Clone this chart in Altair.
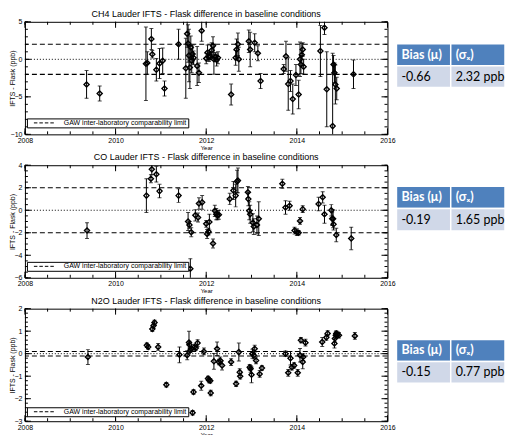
import altair as alt
import pandas as pd

# ---------------- data ----------------
ch4_year = [2009.36, 2009.65, 2010.67, 2010.70, 2010.79, 2010.81, 2010.90, 2010.97, 2011.04, 2011.08, 2011.39,
            2011.55, 2011.58, 2011.60, 2011.62, 2011.64, 2011.66, 2011.68, 2011.70, 2011.72, 2011.80, 2011.84, 2011.90,
            2012.00, 2012.03, 2012.06, 2012.09, 2012.12, 2012.15, 2012.17, 2012.20, 2012.23, 2012.26,
            2012.55, 2012.65, 2012.67, 2012.70, 2012.72,
            2012.94, 2012.97, 2013.07, 2013.14, 2013.20,
            2013.71, 2013.76, 2013.81, 2013.86, 2013.91, 2013.98, 2014.04, 2014.07, 2014.09, 2014.11, 2014.13, 2014.15,
            2014.52, 2014.61, 2014.66, 2014.79, 2014.81, 2014.83, 2014.85, 2014.88, 2015.25]
ch4_val = [-3.35, -4.55, -0.6, -0.5, 2.7, 0.67, -1.4, -0.55, -0.2, -3.9, 2.0,
           -1.2, 3.4, 2.1, 0.5, -1.1, 1.6, -0.2, 0.7, 0.2, -0.9, -1.8, 3.8,
           0.1, 0.9, 0.3, 0.4, 1.2, 1.8, 0.0, 0.3, -0.1, 0.2,
           -4.7, 0.2, 1.3, 2.0, 0.0,
           2.4, 1.3, 2.2, 0.8, -2.9,
           -1.3, 0.4, -3.3, -2.9, -5.3, -2.1, -4.7, 0.0, -0.7, 0.6, 1.3, -1.0,
           1.1, 4.2, -4.0, -8.9, -0.7, -1.8, -3.35, -3.9, -2.0]
ch4_err = [1.85, 1.0, 4.9, 1.5, 1.4, 0.5, 1.5, 2.0, 1.7, 1.0, 2.0,
           4.0, 1.8, 2.5, 3.5, 2.8, 1.5, 1.6, 1.2, 0.9, 2.6, 1.3, 1.4,
           0.7, 1.0, 0.6, 0.5, 1.0, 1.2, 2.0, 0.6, 0.8, 0.8,
           1.4, 1.0, 1.4, 1.5, 1.6,
           1.5, 2.3, 1.2, 1.0, 1.0,
           0.6, 2.0, 3.5, 1.4, 2.0, 1.4, 1.9, 2.3, 1.2, 1.5, 0.9, 1.0,
           3.4, 0.9, 5.0, 9.7, 1.2, 1.3, 2.6, 1.5, 1.9]

co_year = [2009.37, 2010.68, 2010.78, 2010.80, 2010.90, 2010.97, 2011.39, 2011.60, 2011.63, 2011.65,
           2011.67, 2011.76, 2011.82, 2011.84, 2011.91, 2012.00, 2012.02, 2012.05, 2012.07, 2012.15,
           2012.19, 2012.22, 2012.25, 2012.28, 2012.52, 2012.60, 2012.65, 2012.68, 2012.70, 2012.92,
           2012.93, 2012.95, 2012.97, 2013.03, 2013.05, 2013.12, 2013.16, 2013.68, 2013.75, 2013.84,
           2013.95, 2014.00, 2014.04, 2014.07, 2014.13, 2014.48, 2014.57, 2014.61, 2014.76, 2014.78,
           2014.80, 2014.81, 2014.87, 2015.20]
co_val = [-1.8, 1.3, 2.8, 3.65, 3.2, 1.7, 1.3, -1.0, -1.3, -5.2,
          -1.95, -0.45, -0.65, 0.6, 0.7, -1.2, -2.1, -1.9, -1.05, -2.95,
          -0.05, -0.35, -0.45, -0.4, 1.0, 1.75, 1.3, 2.55, 2.65, 1.6,
          1.0, -0.05, -0.35, -1.1, -1.45, -1.3, -0.75, 2.35, 0.25, 0.4,
          -1.8, -1.95, -2.0, -0.95, 0.1, 0.55, 1.15, -0.35, 0.0, -0.75,
          -0.75, -1.25, -2.2, -2.5]
co_err = [0.7, 1.5, 0.35, 0.5, 0.7, 0.6, 0.6, 0.8, 0.3, 0.9,
          0.4, 0.5, 0.4, 0.5, 0.6, 0.3, 0.4, 0.3, 0.7, 0.4,
          0.5, 0.5, 0.4, 0.4, 0.5, 0.8, 1.0, 1.0, 1.1, 0.5,
          0.6, 0.8, 0.8, 0.8, 0.7, 0.8, 1.5, 0.4, 0.6, 0.4,
          0.3, 0.3, 0.2, 0.3, 0.3, 0.6, 0.5, 0.8, 0.5, 0.6,
          0.8, 0.5, 0.6, 1.0]

n2o_year = [2009.39, 2010.69, 2010.72, 2010.81, 2010.84, 2010.86, 2010.94, 2011.12, 2011.41, 2011.58,
            2011.62, 2011.63, 2011.65, 2011.67, 2011.70, 2011.72, 2011.74, 2011.77, 2011.81, 2011.89,
            2011.95, 2012.04, 2012.06, 2012.09, 2012.10, 2012.17, 2012.24, 2012.28, 2012.31, 2012.35,
            2012.55, 2012.66, 2012.72, 2012.74, 2012.75, 2012.96, 2012.98, 2013.00, 2013.02, 2013.05,
            2013.07, 2013.10, 2013.18, 2013.23, 2013.75, 2013.81, 2013.86, 2013.89, 2013.94, 2014.02,
            2014.07, 2014.09, 2014.13, 2014.14, 2014.19, 2014.56, 2014.65, 2014.68, 2014.83, 2014.84,
            2014.86, 2014.87, 2014.90, 2014.93, 2015.28]
n2o_val = [-0.15, 0.37, 0.3, 1.1, 1.25, 1.38, 0.3, -1.38, -0.05, -0.07,
           0.5, 0.4, 0.15, 0.22, -2.62, -1.7, 0.3, 0.25, 0.47, -1.42,
           0.1, -1.1, -1.17, -1.2, -1.75, -0.34, 0.22, -0.37, -0.3, -0.52,
           -0.37, -1.34, 0.07, -0.82, -1.0, -0.6, -0.67, -0.94, 0.0, -0.07,
           0.22, -0.3, -0.9, -0.64, 0.0, -0.85, -0.2, -0.6, -0.52, -0.85,
           -0.07, 0.6, -0.37, -0.15, 0.49, 0.52, 0.72, 0.9, 0.45, 0.67,
           0.82, 0.9, 0.85, 0.82, 0.79]
n2o_err = [0.33, 0.1, 0.1, 0.12, 0.12, 0.1, 0.15, 0.1, 0.35, 0.2,
           0.5, 0.15, 0.1, 0.1, 0.1, 0.1, 0.12, 0.1, 0.15, 0.2,
           0.15, 0.1, 0.12, 0.1, 0.12, 0.35, 0.3, 0.12, 0.15, 0.2,
           0.15, 0.12, 0.4, 0.15, 0.12, 0.12, 0.15, 0.35, 0.2, 0.15,
           0.15, 0.15, 0.15, 0.1, 0.12, 0.15, 0.3, 0.12, 0.12, 0.15,
           0.3, 0.12, 0.3, 0.15, 0.15, 0.2, 0.12, 0.12, 0.2, 0.15,
           0.15, 0.12, 0.12, 0.12, 0.15]

titles = ["CH4 Lauder IFTS - Flask difference in baseline conditions",
          "CO Lauder IFTS - Flask difference in baseline conditions",
          "N2O Lauder IFTS - Flask difference in baseline conditions"]
y_domains = [[-10, 5], [-6, 4], [-3, 2]]
y_major = [[-10, -5, 0, 5], [-6, -4, -2, 0, 2, 4], [-3, -2, -1, 0, 1, 2]]
y_minor_step = [1.0, 0.5, 0.2]
limits = [2.0, 2.0, 0.1]
bias_vals = ["-0.66", "-0.19", "-0.15"]
sigma_vals = ["2.32 ppb", "1.65 ppb", "0.77 ppb"]
header_labels = ["Bias (\u03bc)", "(\u03c3\u2093)"]
limit_label = "GAW inter-laboratory comparability limit"
x_major = [2008, 2010, 2012, 2014, 2016]
x_minor = [2008 + 0.5 * i for i in range(17)]

# ---------------- layout / style ----------------
FONT = "Liberation Sans"
TFONT = "Lato"
W, H = 364, 113
TAB_X = [373, 482]
table_y = [[22, 66], [21, 66], [31, 75]]
legend_y = [97, 97, 99]
LEGEND_PATH = "M1,0H2.4M3.2,0H4.6M5.4,0H6.8M7.6,0H9"


def panel(i, years, vals, errs):
    df = pd.DataFrame({"year": years, "val": vals, "err": errs})
    df["lo"] = df["val"] - df["err"]
    df["hi"] = df["val"] + df["err"]

    yscale = alt.Scale(domain=y_domains[i], nice=False, zero=False)
    xscale = alt.Scale(domain=[2008, 2016], nice=False, zero=False)
    yaxis = alt.Axis(values=y_major[i], ticks=False, tickSize=0, domain=False, grid=False,
                     labelFontSize=7, labelPadding=3, labelFlush=False, labelOverlap=False,
                     title="IFTS - Flask (ppb)", titleFontSize=7, titleX=-9)
    xaxis = alt.Axis(values=x_major, format="d", ticks=False, tickSize=0, domain=False, grid=False,
                     labelFontSize=7, labelPadding=2, labelFlush=False, labelOverlap=False,
                     title="Year", titleFontSize=6, titlePadding=1)

    def xq(f):
        return alt.X(f, scale=xscale, axis=xaxis)

    def yq(f):
        return alt.Y(f, scale=yscale, axis=yaxis)

    lo_d, hi_d = y_domains[i]
    step = y_minor_step[i]
    n = int(round((hi_d - lo_d) / step))
    ymin_df = pd.DataFrame({"v": [lo_d + k * step for k in range(n + 1)]})
    ymaj_df = pd.DataFrame({"v": y_major[i]})
    xmin_df = pd.DataFrame({"v": x_minor})
    xmaj_df = pd.DataFrame({"v": x_major})

    base_rule = dict(color="black", strokeWidth=1)
    ticks = []
    for tdf, L in ((ymaj_df, 6), (ymin_df, 3)):
        ticks.append(alt.Chart(tdf).mark_rule(**base_rule).encode(
            y=yq("v:Q"), x=alt.value(0), x2=alt.value(L)))
        ticks.append(alt.Chart(tdf).mark_rule(**base_rule).encode(
            y=yq("v:Q"), x=alt.value(W), x2=alt.value(W - L)))
    for tdf, L in ((xmaj_df, 6), (xmin_df, 3)):
        ticks.append(alt.Chart(tdf).mark_rule(**base_rule).encode(
            x=xq("v:Q"), y=alt.value(H), y2=alt.value(H - L)))
        ticks.append(alt.Chart(tdf).mark_rule(**base_rule).encode(
            x=xq("v:Q"), y=alt.value(0), y2=alt.value(L)))

    lim_df = pd.DataFrame({"lim": [limits[i], -limits[i]], "lab": [limit_label, limit_label]})
    lim_rules = alt.Chart(lim_df).mark_rule(color="black", strokeWidth=1.1, strokeDash=[5, 3]).encode(
        y=yq("lim:Q"),
        color=alt.Color("lab:N", scale=alt.Scale(domain=[limit_label], range=["black"]),
                        legend=alt.Legend(orient="none", legendX=2, legendY=legend_y[i], title=None,
                                          strokeColor="black", fillColor="white", padding=1,
                                          labelFont=FONT, labelFontSize=7, labelColor="black",
                                          symbolType=LEGEND_PATH, symbolSize=25, symbolStrokeWidth=1,
                                          symbolStrokeColor="black", symbolFillColor="transparent",
                                          labelOffset=29)))
    zero_rule = alt.Chart(pd.DataFrame({"z": [0]})).mark_rule(
        color="black", strokeWidth=1, strokeDash=[1, 2]).encode(y=yq("z:Q"))

    base = alt.Chart(df)
    bars = base.mark_rule(color="black", strokeWidth=1, clip=True).encode(
        x=xq("year:Q"), y=yq("lo:Q"), y2="hi:Q")
    cap_hi = base.mark_tick(color="black", orient="horizontal", size=4, thickness=1, clip=True).encode(
        x=xq("year:Q"), y=yq("hi:Q"))
    cap_lo = base.mark_tick(color="black", orient="horizontal", size=4, thickness=1, clip=True).encode(
        x=xq("year:Q"), y=yq("lo:Q"))
    pts = base.mark_point(shape="diamond", filled=False, color="black", size=26, strokeWidth=1.4,
                          clip=True, opacity=1).encode(x=xq("year:Q"), y=yq("val:Q"))

    data_layer = alt.layer(lim_rules, zero_rule, bars, cap_hi, cap_lo, pts, *ticks)

    tab = pd.DataFrame({"col": ["a", "b", "a", "b"], "row": ["h", "h", "v", "v"],
                        "txt": [header_labels[0], header_labels[1], bias_vals[i], sigma_vals[i]]})

    def tx(bp=None):
        kw = {} if bp is None else {"bandPosition": bp}
        return alt.X("col:N", scale=alt.Scale(domain=["a", "b"], range=TAB_X, paddingInner=0,
                                              paddingOuter=0), axis=None, **kw)

    ty = alt.Y("row:N", scale=alt.Scale(domain=["h", "v"], range=table_y[i], paddingInner=0, paddingOuter=0),
               axis=None)
    rect = alt.Chart(tab).mark_rect(stroke="white", strokeWidth=1.5).encode(
        x=tx(), y=ty,
        fill=alt.condition("datum.row == 'h'", alt.value("#4F81BD"), alt.value("#D0D8E8")))
    txt_h = alt.Chart(tab).transform_filter("datum.row == 'h'").mark_text(
        align="left", baseline="middle", dx=5, font=TFONT, fontSize=12.5, fontWeight="bold",
        color="white").encode(x=tx(0), y=ty, text="txt:N")
    txt_v = alt.Chart(tab).transform_filter("datum.row == 'v'").mark_text(
        align="left", baseline="middle", dx=5, font=TFONT, fontSize=12.5, color="black").encode(
        x=tx(0), y=ty, text="txt:N")
    table = alt.layer(rect, txt_h, txt_v)

    return alt.layer(data_layer, table).resolve_scale(x="independent", y="independent").properties(
        width=W, height=H,
        title=alt.TitleParams(titles[i], font=FONT, fontSize=9, fontWeight="normal", color="black",
                              offset=-1, anchor="middle", frame="group"))


p1 = panel(0, ch4_year, ch4_val, ch4_err)
p2 = panel(1, co_year, co_val, co_err)
p3 = panel(2, n2o_year, n2o_val, n2o_err)

chart = alt.vconcat(p1, p2, p3, spacing=1).resolve_scale(color="independent").resolve_legend(
    color="independent").properties(padding=0, background="white").configure_view(
    stroke="black", strokeWidth=1).configure_axis(
    labelFont=FONT, titleFont=FONT, labelColor="black", titleColor="black", titleFontWeight="normal")

chart.save("out.html", embed_options={"renderer": "svg", "actions": False})
